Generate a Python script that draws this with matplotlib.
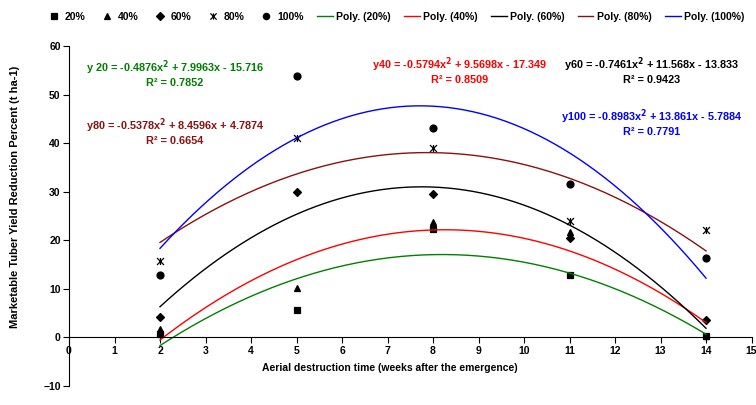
import numpy as np
import matplotlib
matplotlib.use("Agg")
import matplotlib.pyplot as plt
from matplotlib.path import Path

plt.rcParams['font.family'] = ['Liberation Sans', 'DejaVu Sans']
plt.rcParams['font.weight'] = 'bold'

# weeks after emergence
weeks = [2, 5, 8, 11, 14]

# yield reduction (%) per defoliation level
red20 = [0.8, 5.7, 22.4, 12.8, 0.3]
red40 = [1.7, 10.2, 23.8, 21.8, 0.3]
red60 = [4.3, 30.0, 29.5, 20.4, 3.6]
red80 = [15.7, 41.0, 39.1, 24.0, 22.2]
red100 = [12.9, 53.8, 43.2, 31.6, 16.3]

# polynomial trendlines as printed on the chart (a, b, c)
coef20 = [-0.4876, 7.9963, -15.716]
coef40 = [-0.5794, 9.5698, -17.349]
coef60 = [-0.7461, 11.568, -13.833]
coef80 = [-0.5378, 8.4596, 4.7874]
coef100 = [-0.8983, 13.861, -5.7884]

labels = ['20%', '40%', '60%', '80%', '100%']
colors = ['#008000', '#ff0000', '#000000', '#8b1010', '#0000ff']

# excel style star: x plus vertical bar
star = Path([(-1, -1), (1, 1), (-1, 1), (1, -1), (0, -1), (0, 1)],
            [Path.MOVETO, Path.LINETO, Path.MOVETO, Path.LINETO, Path.MOVETO, Path.LINETO])
markers = ['s', '^', 'D', star, 'o']
msizes = [4.5, 5, 4, 5, 5]

fig = plt.figure(figsize=(7.56, 4.05), dpi=100)
ax = fig.add_axes([69 / 756, 19 / 405, 682.5 / 756, 340 / 405])

series = [red20, red40, red60, red80, red100]
coefs = [coef20, coef40, coef60, coef80, coef100]

handles = []
for lab, ys, m, ms in zip(labels, series, markers, msizes):
    h, = ax.plot(weeks, ys, linestyle='none', marker=m, markersize=ms,
                 color='black', markeredgewidth=0.9, label=lab)
    handles.append(h)

xx = np.linspace(2, 14, 200)
for lab, c, col in zip(labels, coefs, colors):
    h, = ax.plot(xx, np.polyval(c, xx), color=col, lw=1.0, label='Poly. (%s)' % lab)
    handles.append(h)

ax.set_xlim(0, 15)
ax.set_ylim(-10, 60)
ax.set_xticks(range(0, 16))
ax.set_yticks(range(-10, 61, 10))
ax.spines['top'].set_visible(False)
ax.spines['right'].set_visible(False)
ax.spines['bottom'].set_position(('data', 0))
ax.tick_params(labelsize=7.5, length=4, width=0.8, pad=2)
for t in ax.get_xticklabels() + ax.get_yticklabels():
    t.set_fontweight('bold')

# equation boxes
eqs = [
    (175, 68, 'y 20 = -0.4876x$^2$ + 7.9963x - 15.716', 'R² = 0.7852', colors[0]),
    (460, 65, 'y40 = -0.5794x$^2$ + 9.5698x - 17.349', 'R² = 0.8509', colors[1]),
    (652, 65, 'y60 = -0.7461x$^2$ + 11.568x - 13.833', 'R² = 0.9423', colors[2]),
    (175, 126, 'y80 = -0.5378x$^2$ + 8.4596x + 4.7874', 'R² = 0.6654', colors[3]),
    (652, 117, 'y100 = -0.8983x$^2$ + 13.861x - 5.7884', 'R² = 0.7791', colors[4]),
]
for px, py, l1, l2, col in eqs:
    fig.text(px / 756, 1 - py / 405, l1, color=col, fontsize=7.8, fontweight='bold',
             ha='center', va='center')
    fig.text(px / 756, 1 - (py + 15) / 405, l2, color=col, fontsize=7.8, fontweight='bold',
             ha='center', va='center')

fig.text(15 / 756, 1 - 197 / 405, 'Marketable Tuber Yield Reduction Percent (t ha-1)',
         rotation=90, fontsize=8, fontweight='bold', ha='center', va='center')
fig.text(390 / 756, 1 - 368 / 405, 'Aerial destruction time (weeks after the emergence)',
         fontsize=7.5, fontweight='bold', ha='center', va='center')

fig.legend(handles=handles, loc='center', bbox_to_anchor=(395 / 756, 1 - 17 / 405),
           ncol=10, frameon=False, fontsize=7.5, handlelength=1.5, handletextpad=0.3,
           columnspacing=1.3, markerscale=0.9)

fig.savefig('out.png', dpi=100)
